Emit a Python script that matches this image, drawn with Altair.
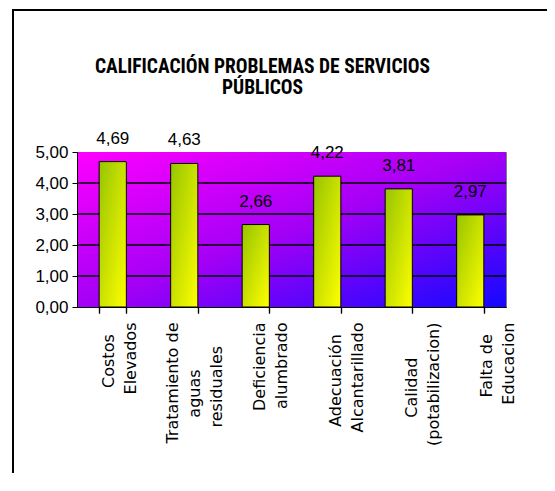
import altair as alt
import pandas as pd

# ---------------- data ----------------
categories = [
    "Costos\nElevados",
    "Tratamiento de\naguas\nresiduales",
    "Deficiencia\nalumbrado",
    "Adecuación\nAlcantarillado",
    "Calidad\n(potabilizacion)",
    "Falta de\nEducacion",
]
scores = [4.69, 4.63, 2.66, 4.22, 3.81, 2.97]
y_ticks = [0, 1, 2, 3, 4, 5]
grid_values = [1, 2, 3, 4]
title_lines = ["CALIFICACIÓN PROBLEMAS DE SERVICIOS", "PÚBLICOS"]

# ---------------- layout ----------------
W, H = 429, 155
PAD_L, PAD_T, PAD_R, PAD_B = 69, 144, 41, 166

# approximate DejaVu Sans advance widths (em), used to centre label lines
CW = {" ": .318, "a": .613, "b": .635, "c": .550, "d": .635, "e": .615,
      "f": .352, "g": .635, "i": .278, "l": .278, "m": .974, "n": .634, "o": .612,
      "ó": .612, "p": .635, "r": .411, "s": .521, "t": .392, "u": .634, "v": .592,
      "z": .525, "C": .698, "E": .632, "T": .611, "D": .770, "A": .684, "F": .575,
      "(": .390, ")": .390}
BLANK = "\u2800"      # blank glyph (not trimmed like spaces)
BLANK_W = .60
MAX_LINES = 3


def label_lines(label):
    lines = label.split("\n")
    widths = [sum(CW.get(ch, .6) for ch in ln) for ln in lines]
    m = max(widths)
    padded = [ln + BLANK * round((m - w) / 2 / BLANK_W) for ln, w in zip(lines, widths)]
    # interleave spacer lines (half line height) so every block is centred alike
    out = [BLANK] * (MAX_LINES - len(lines))
    for i, ln in enumerate(padded):
        if i:
            out.append(BLANK)
        out.append(ln)
    return "\n".join(out)


df = pd.DataFrame({
    "cat": categories,
    "score": scores,
    "label": [label_lines(c) for c in categories],
    "txt": [f"{v:.2f}".replace(".", ",") for v in scores],
})
grid_df = pd.DataFrame({"g": grid_values})
one = pd.DataFrame({"k": [0]})

bg_grad = alt.LinearGradient(
    gradient="linear", x1=0, y1=0, x2=1, y2=1,
    stops=[alt.GradientStop(color="#ff00ff", offset=0),
           alt.GradientStop(color="#a400f6", offset=0.5),
           alt.GradientStop(color="#1408ff", offset=1)])
bar_grad = alt.LinearGradient(
    gradient="linear", x1=0, y1=0, x2=1, y2=1,
    stops=[alt.GradientStop(color="#96c400", offset=0),
           alt.GradientStop(color="#ffff00", offset=1)])

TITLEFONT = "Roboto Condensed, Noto Sans CJK JP, Liberation Sans"
NUMFONT = "Liberation Sans"

yscale = alt.Scale(domain=[0, 5], nice=False, zero=True)
xscale = alt.Scale(paddingInner=0.62, paddingOuter=0.31)


def y_axis():
    return alt.Axis(title=None, values=y_ticks, tickCount=6, grid=False, tickSize=5,
                    tickColor="black", domainColor="black", labelColor="black",
                    labelFont=NUMFONT, labelFontSize=17, labelPadding=4,
                    labelOverlap=False, labelBound=False, labelFlush=False,
                    labelExpr="replace(format(datum.value, '.2f'), '.', ',')",
                    zindex=1)


def x_axis():
    return alt.Axis(orient="bottom", title=None, labels=False, ticks=True,
                    tickBand="extent", tickSize=6, tickWidth=1.2,
                    tickColor="black", domainColor="black", domainWidth=1.2,
                    grid=False, zindex=1)


background = alt.Chart(one).mark_rect(fill=bg_grad).encode(
    x=alt.value(0), x2=alt.value(W), y=alt.value(0), y2=alt.value(H))

frame_left = alt.Chart(one).mark_rule(color="black", strokeWidth=2).encode(
    x=alt.value(-64), y=alt.value(-142), y2=alt.value(H + PAD_B))
frame_top = alt.Chart(one).mark_rule(color="black", strokeWidth=2).encode(
    x=alt.value(-65), x2=alt.value(W + PAD_R), y=alt.value(-142))

grid = alt.Chart(grid_df).mark_rule(color="black", strokeWidth=1.6).encode(
    y=alt.Y("g:Q", scale=yscale, axis=y_axis()))

bars = alt.Chart(df).mark_bar(fill=bar_grad, stroke="black", strokeWidth=1).encode(
    x=alt.X("cat:N", sort=None, scale=xscale, axis=x_axis()),
    y=alt.Y("score:Q", scale=yscale, axis=y_axis()),
)

values = alt.Chart(df).mark_text(baseline="alphabetic", dy=-18, font=NUMFONT,
                                 fontSize=17, color="black").encode(
    x=alt.X("cat:N", sort=None, scale=xscale, axis=x_axis()),
    y=alt.Y("score:Q", scale=yscale, axis=y_axis()),
    text="txt:N",
)

labels = alt.Chart(df).mark_point(opacity=0).encode(
    x=alt.X("label:N", sort=None,
            scale=alt.Scale(type="point", padding=0.33, align=0.4),
            axis=alt.Axis(orient="bottom", title=None, ticks=False, domain=False,
                          labelAngle=270, labelAlign="right", labelBaseline="middle",
                          labelPadding=15, labelFont="DejaVu Sans", labelFontSize=16,
                          labelLineHeight=11, labelColor="black", labelOverlap=False,
                          labelLimit=0,
                          labelExpr="split(datum.label, '\\n')")),
    y=alt.value(0),
)

chart = alt.layer(
    background, grid, bars, values, frame_left, frame_top, labels
).resolve_scale(x="independent").properties(
    width=W, height=H,
    padding={"left": PAD_L, "top": PAD_T, "right": PAD_R, "bottom": PAD_B},
    autosize=alt.AutoSizeParams(type="none"),
    title=alt.TitleParams(text=title_lines, font=TITLEFONT, fontSize=19.5,
                          fontWeight="bold", lineHeight=21, anchor="middle",
                          baseline="bottom", dx=-29, offset=-108, color="black"),
).configure_view(stroke="#808080", strokeWidth=1)

chart.save("out.html", embed_options={"renderer": "svg", "actions": False})
